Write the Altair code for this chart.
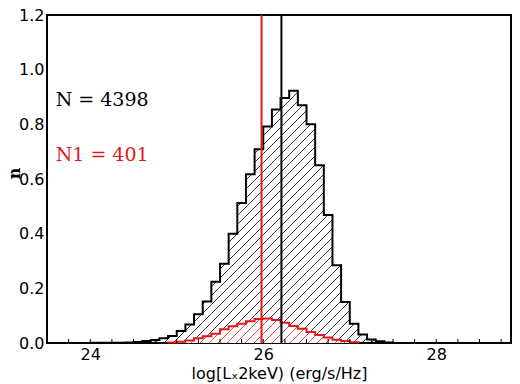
import numpy as np
import pandas as pd
import altair as alt

# ---------------- data ----------------
BIN_W = 0.1
black_start = 24.0
black_vals = [0.0005, 0.001, 0.001, 0.001, 0.002, 0.004, 0.007, 0.011, 0.017, 0.026,
              0.044, 0.068, 0.105, 0.152, 0.224, 0.29, 0.40, 0.512, 0.617, 0.709,
              0.792, 0.854, 0.896, 0.923, 0.870, 0.800, 0.650, 0.468, 0.284, 0.150,
              0.070, 0.031, 0.013, 0.006, 0.002]
red_start = 24.9
red_vals = [0.002, 0.005, 0.009, 0.017, 0.025, 0.034, 0.050, 0.061, 0.070, 0.080,
            0.088, 0.090, 0.084, 0.074, 0.062, 0.052, 0.040, 0.029, 0.020, 0.012,
            0.007, 0.003]
black_median = 26.21
red_median = 25.98
minor_ticks = [23.75 + 0.25 * i for i in range(21)]
x_tick_labels = [24, 26, 28]
y_tick_labels = [0.0, 0.2, 0.4, 0.6, 0.8, 1.0, 1.2]
label_N = "N = 4398"
label_N1 = "N1 = 401"

# ---------------- layout / style ----------------
W, H = 464, 328
XDOM = [23.5, 28.864]
YDOM = [0.0, 1.2]
RED = "#e3181c"
HATCH_PX = 9.0  # horizontal spacing of hatch lines in pixels

px_per_x = W / (XDOM[1] - XDOM[0])
px_per_y = H / (YDOM[1] - YDOM[0])
slope = px_per_x / px_per_y            # 45 degree lines in pixel space
spacing = HATCH_PX / px_per_x


def bins(start, vals):
    x0 = [start + i * BIN_W for i in range(len(vals))]
    return pd.DataFrame({"x0": x0, "x1": [v + BIN_W for v in x0], "h": vals})


def step_points(start, vals):
    xs, ys = [start], [0.0]
    for i, v in enumerate(vals):
        xs.append(start + i * BIN_W)
        ys.append(v)
    xs.append(start + len(vals) * BIN_W)
    ys.append(vals[-1])
    xs.append(start + len(vals) * BIN_W)
    ys.append(0.0)
    return pd.DataFrame({"x": xs, "y": ys, "i": list(range(len(xs)))})


def hatch(df):
    rows = []
    for x0, x1, h in zip(df.x0, df.x1, df.h):
        if h <= 0:
            continue
        kmin = int(np.floor((x0 - h / slope - XDOM[0]) / spacing)) - 1
        kmax = int(np.ceil((x1 - XDOM[0]) / spacing)) + 1
        for k in range(kmin, kmax + 1):
            c = XDOM[0] + k * spacing
            xa = max(x0, c)
            xb = min(x1, c + h / slope)
            if xb - xa > 1e-9:
                rows.append({"xa": xa, "xb": xb,
                             "ya": slope * (xa - c), "yb": slope * (xb - c)})
    return pd.DataFrame(rows)


black_bins = bins(black_start, black_vals)
red_bins = bins(red_start, red_vals)

XS = alt.Scale(domain=XDOM, nice=False, zero=False)
YS = alt.Scale(domain=YDOM, nice=False, zero=False)
FONT = "DejaVu Sans"
xax = alt.Axis(values=x_tick_labels, format="d", title="log[Lₓ2keV) (erg/s/Hz]",
               ticks=False, domain=False, grid=False, labelPadding=3, labelFontSize=16,
               labelFont=FONT, labelColor="black", titleFont=FONT, titleFontSize=16,
               titleFontWeight="normal", titleColor="black",
               titleBaseline="alphabetic", titleY=35)
yax = alt.Axis(values=y_tick_labels, format=".1f", title="n", ticks=False,
               domain=False, grid=False, labelPadding=3, labelFontSize=16,
               labelFont=FONT, labelColor="black", titleFont="DejaVu Serif",
               titleFontSize=16, titleFontWeight="bold", titleColor="black",
               titleAngle=270, titleBaseline="alphabetic", titleX=-28, titleY=158)


def X(f):
    return alt.X(f, type="quantitative", scale=XS, axis=xax)


def Y(f):
    return alt.Y(f, type="quantitative", scale=YS, axis=yax)


black_hatch = alt.Chart(hatch(black_bins)).mark_rule(
    color="black", strokeWidth=0.8).encode(
    x=X("xa"), x2="xb", y=Y("ya"), y2="yb")

red_cover = alt.Chart(red_bins).mark_rect(fill="white").encode(
    x=X("x0"), x2="x1", y=Y("h"), y2=alt.datum(0))

red_hatch = alt.Chart(hatch(red_bins)).mark_rule(
    color=RED, strokeWidth=0.8).encode(
    x=X("xa"), x2="xb", y=Y("ya"), y2="yb")

black_step = alt.Chart(step_points(black_start, black_vals)).mark_line(
    color="black", strokeWidth=2, interpolate="step-after").encode(
    x=X("x"), y=Y("y"), order="i:Q")

red_step = alt.Chart(step_points(red_start, red_vals)).mark_line(
    color=RED, strokeWidth=2, interpolate="step-after").encode(
    x=X("x"), y=Y("y"), order="i:Q")

vline_black = alt.Chart(pd.DataFrame({"m": [black_median]})).mark_rule(
    color="black", strokeWidth=2).encode(x=X("m"))
vline_red = alt.Chart(pd.DataFrame({"m": [red_median]})).mark_rule(
    color=RED, strokeWidth=2).encode(x=X("m"))

ticks = alt.Chart(pd.DataFrame({"t": minor_ticks})).mark_rule(
    color="black", strokeWidth=1).encode(
    x=X("t"), y=alt.value(H), y2=alt.value(H - 4))

text_N = alt.Chart(pd.DataFrame({"s": [label_N]})).mark_text(
    align="left", baseline="alphabetic", font="DejaVu Serif", fontSize=19,
    color="black").encode(x=alt.datum(23.6, scale=XS), y=alt.datum(0.867, scale=YS),
                          text="s:N")
text_N1 = alt.Chart(pd.DataFrame({"s": [label_N1]})).mark_text(
    align="left", baseline="alphabetic", font="DejaVu Serif", fontSize=19,
    color=RED).encode(x=alt.datum(23.6, scale=XS), y=alt.datum(0.666, scale=YS),
                      text="s:N")

chart = alt.layer(black_hatch, red_cover, red_hatch, black_step, red_step,
                  vline_black, vline_red, ticks, text_N, text_N1).properties(
    width=W, height=H,
    padding={"left": 39, "top": 7, "right": 1, "bottom": 40},
    autosize=alt.AutoSizeParams(type="none"),
).configure_view(stroke="black", strokeWidth=2)

chart.save("out.html", embed_options={"renderer": "svg", "actions": False})
